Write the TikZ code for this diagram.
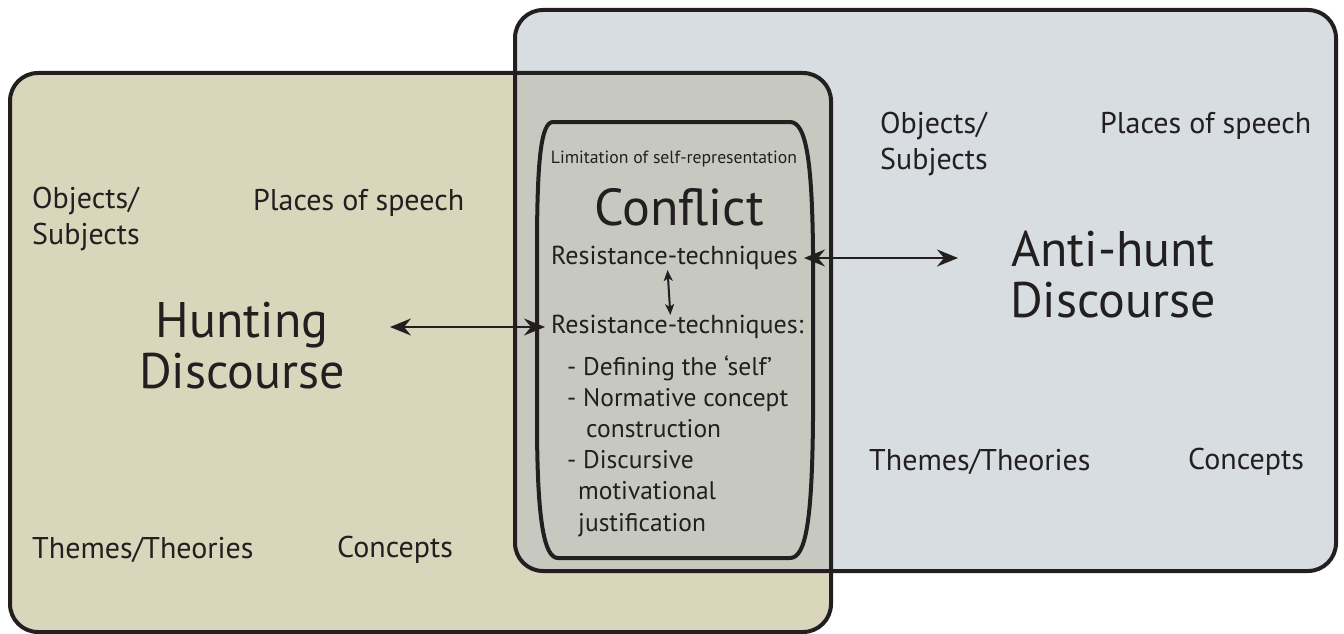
\documentclass[tikz,border=0pt]{standalone}
\usepackage{fontspec}
\setmainfont{PT Sans}
\usetikzlibrary{arrows.meta, positioning, calc}
\definecolor{huntbg}{RGB}{218,214,187}
\definecolor{antibg}{RGB}{216,221,225}
\definecolor{overlapbg}{RGB}{199,201,192}
\definecolor{ink}{RGB}{35,31,32}

\begin{document}
\begin{tikzpicture}[x=1pt, y=-1pt,
    >={Stealth[length=21pt, width=17pt, inset=7pt]},
    box/.style={draw=ink, line width=4pt, rounded corners=28pt},
    lbl/.style={anchor=west, inner sep=0pt, align=left, text=ink, font=\fontsize{30}{36}\selectfont},
    big/.style={align=center, inner sep=0pt, text=ink, font=\fontsize{50}{51}\selectfont},
    res/.style={anchor=west, inner xsep=6pt, inner ysep=0pt, text=ink, font=\fontsize{26}{28}\selectfont},
    link/.style={<->, line width=2pt, draw=ink},
]
    \useasboundingbox (0,0) rectangle (1344,634);
    \fill[huntbg, rounded corners=28pt] (10,73) rectangle (831,632);
    \fill[antibg, rounded corners=28pt] (515,10) rectangle (1336,571);
    \begin{scope}
        \clip[rounded corners=28pt] (10,73) rectangle (831,632);
        \fill[overlapbg, rounded corners=28pt] (515,10) rectangle (1336,571);
    \end{scope}
    \draw[box] (10,73) rectangle (831,632);
    \draw[box] (515,10) rectangle (1336,571);
    % conflict zone
    \draw[line width=4pt, draw=ink] (553,122) -- (790,122)
        .. controls (806,122) and (812,160) .. (813,250) -- (813,420)
        .. controls (812,520) and (806,558) .. (790,558) -- (558,558)
        .. controls (544,558) and (537,520) .. (537,420) -- (537,250)
        .. controls (537,160) and (541,122) .. (553,122) -- cycle;

    \node[lbl] (hobj) at (32,219) {Objects/\\Subjects};
    \node[lbl] (hplace) at (253,203) {Places of speech};
    \node[lbl] (htheme) at (32,550) {Themes/Theories};
    \node[lbl] (hconc) at (337,550) {Concepts};
    \node[big] (hunt) at (242,346) {Hunting\\Discourse};

    \node[lbl] (aobj) at (880,144) {Objects/\\Subjects};
    \node[lbl] (aplace) at (1100,126) {Places of speech};
    \node[lbl] (atheme) at (869,462) {Themes/Theories};
    \node[lbl] (aconc) at (1188,462) {Concepts};
    \node[big] (anti) at (1113,275) {Anti-hunt\\Discourse};

    \node[inner sep=0pt, text=ink, font=\fontsize{17.7}{19}\selectfont] (limit) at (674,159) {Limitation of self-representation};
    \node[inner sep=0pt, text=ink, font=\fontsize{52}{52}\selectfont] (conflict) at (679,207) {Conflict};
    \node[res] (res1) at (545,258) {Resistance-techniques};
    \node[res] (res2) at (545,327) {Resistance-techniques:};
    \node[anchor=north west, inner sep=0pt, align=left, text=ink, font=\fontsize{25.5}{31.2}\selectfont] (list) at (567,355)
        {- Defining the ‘self’\\
         - Normative concept\\
         \hspace*{19pt}construction\\
         - Discursive\\
         \hspace*{11pt}motivational\\
         \hspace*{11pt}justification};

    \coordinate (huntend) at (390,327);
    \coordinate (antiend) at (958,258);
    \draw[link] (huntend) -- (res2.west);
    \draw[link] (res1.east) -- (antiend);
    \draw[line width=2pt, draw=ink, {Stealth[length=11pt, width=9pt, inset=3pt]}-{Stealth[length=11pt, width=9pt, inset=3pt]}]
        ([xshift=-7pt]res1.south) -- ([xshift=-7pt]res2.north);
\end{tikzpicture}
\end{document}
